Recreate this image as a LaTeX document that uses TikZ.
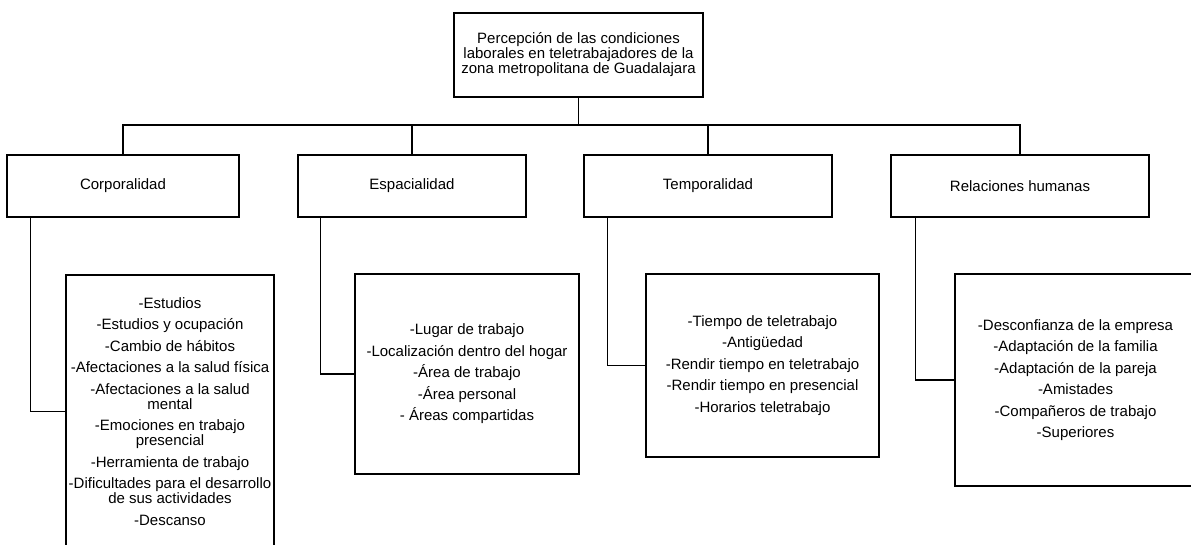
\documentclass[tikz,border=0pt]{standalone}
\usepackage{fontspec}
\setmainfont{Liberation Sans}
\lineskiplimit=-20pt
\begin{document}
\begin{tikzpicture}[x=1pt,y=-1pt,
  box/.style={draw=black, line width=1.1pt, rectangle, align=center, inner sep=0pt,
    font=\fontsize{15}{15}\selectfont, text=black},
  link/.style={draw=black, line width=1.1pt}]
\useasboundingbox (0,0) rectangle (1191,544);
% top
\node[box, minimum width=249, minimum height=84] (top) at (578.5,55)
  {Percepción de las condiciones\\laborales en teletrabajadores de la\\zona metropolitana de Guadalajara};
% level 2
\node[box, minimum width=232, minimum height=62] (corp) at (123,186) {Corporalidad};
\node[box, minimum width=228, minimum height=62] (esp) at (412,186) {Espacialidad};
\node[box, minimum width=248, minimum height=62] (temp) at (708,186) {Temporalidad};
\node[box, minimum width=258, minimum height=62] (rel) at (1020,186) {Relaciones humanas};
% level 3
\node[box, minimum width=208, minimum height=273] (c1) at (170,411.5)
  {-Estudios\\[6.5pt]-Estudios y ocupación\\[6.5pt]-Cambio de hábitos\\[6.5pt]-Afectaciones a la salud física\\[6.5pt]-Afectaciones a la salud\\mental\\[6.5pt]-Emociones en trabajo\\presencial\\[6.5pt]-Herramienta de trabajo\\[6.5pt]-Dificultades para el desarrollo\\de sus actividades\\[6.5pt]-Descanso};
\node[box, minimum width=224, minimum height=200] (c2) at (467,374)
  {-Lugar de trabajo\\[6.5pt]-Localización dentro del hogar\\[6.5pt]-Área de trabajo\\[6.5pt]-Área personal\\[6.5pt]- Áreas compartidas};
\node[box, minimum width=233, minimum height=183] (c3) at (762.5,365.5)
  {-Tiempo de teletrabajo\\[6.5pt]-Antigüedad\\[6.5pt]-Rendir tiempo en teletrabajo\\[6.5pt]-Rendir tiempo en presencial\\[6.5pt]-Horarios teletrabajo};
\node[box, minimum width=241, minimum height=212] (c4) at (1075.5,380)
  {-Desconfianza de la empresa\\[6.5pt]-Adaptación de la familia\\[6.5pt]-Adaptación de la pareja\\[6.5pt]-Amistades\\[6.5pt]-Compañeros de trabajo\\[6.5pt]-Superiores};
% connectors
\coordinate (bus) at (578.5,125);
\draw[link] (top.south) -- (bus);
\draw[link] (corp.north) |- (bus) -| (rel.north);
\draw[link] (esp.north) -- (esp.north |- bus);
\draw[link] (temp.north) -- (temp.north |- bus);
\draw[link] ([xshift=24pt]corp.south west) |- (c1.west);
\draw[link] ([xshift=23pt]esp.south west) |- (c2.west);
\draw[link] ([xshift=24pt]temp.south west) |- (c3.west);
\draw[link] ([xshift=25pt]rel.south west) |- (c4.west);
\end{tikzpicture}
\end{document}
